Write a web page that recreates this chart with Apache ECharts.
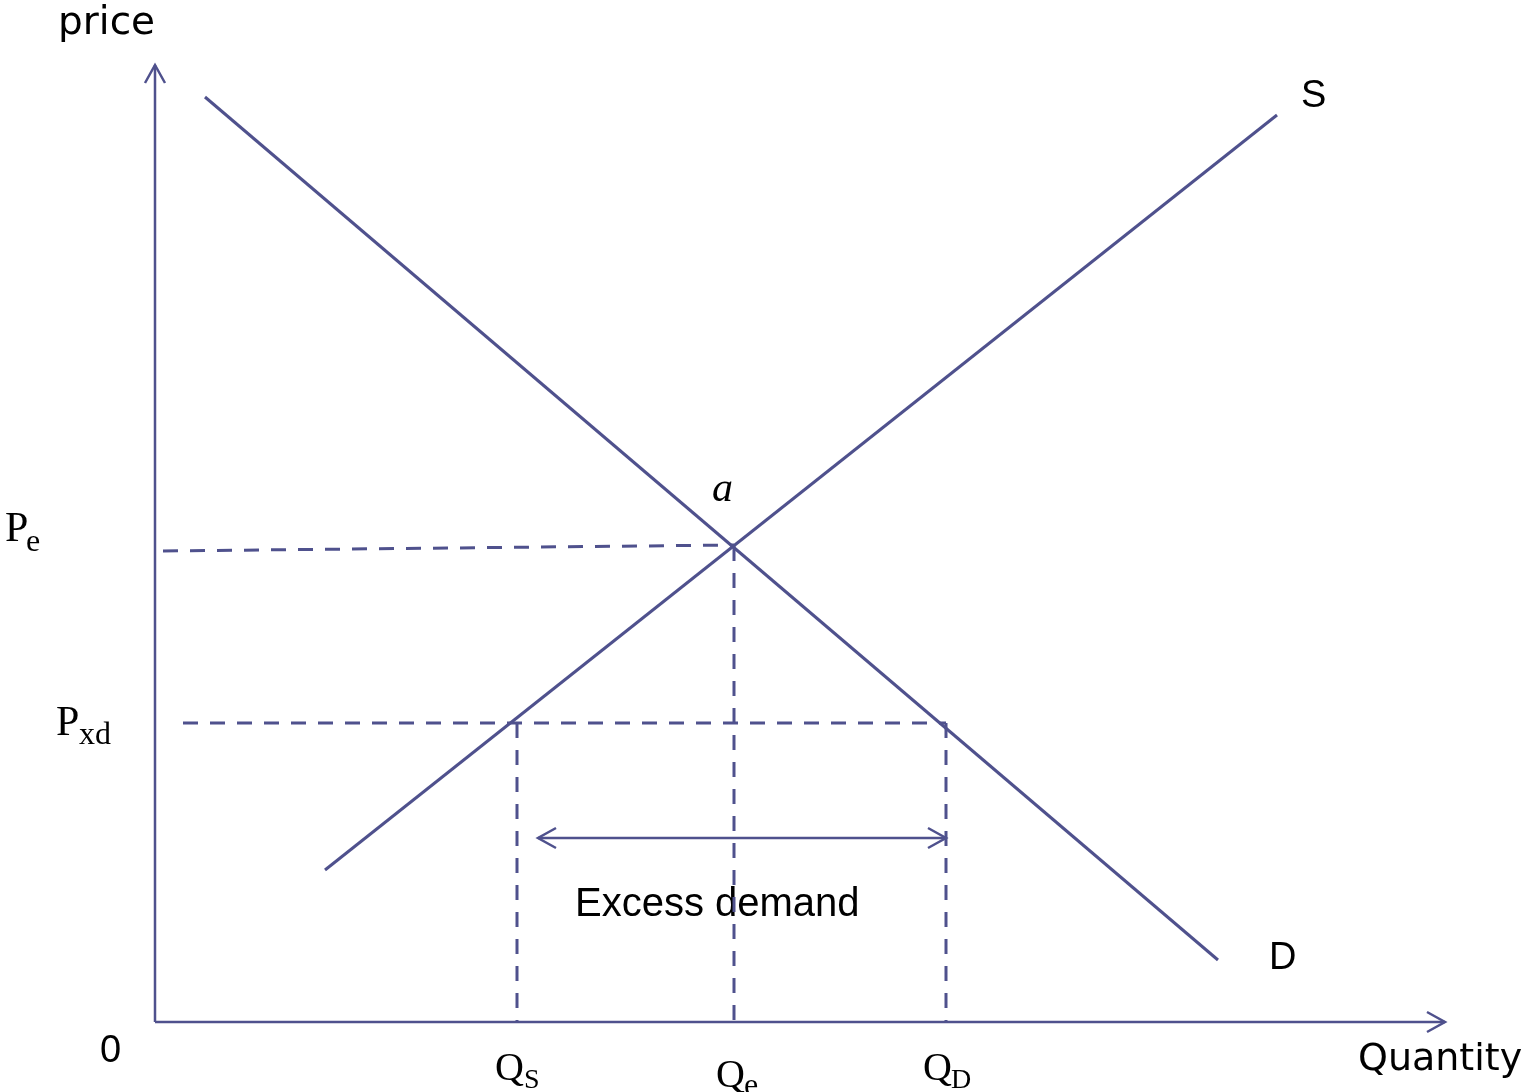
<!DOCTYPE html>
<html>
<head>
    <meta charset="utf-8">
    <title>Excess demand</title>
    <script src="https://cdn.jsdelivr.net/npm/echarts@6/dist/echarts.min.js"></script>
</head>
<body style="margin:0;">
    <div id="main" style="width: 1528px;height:1092px;"></div>
    <script type="text/javascript">
        // quantity / price points, one unit = one pixel
        var demand = [[50, 925], [1063, 62]];
        var supply = [[170, 152], [1122, 907]];
        var peGuide = [[8, 471], [579, 477]];
        var pxdGuide = [[28, 299], [791, 299]];
        var qsGuide = [[362, 299], [362, 0]];
        var qeGuide = [[579, 476], [579, -8]];
        var qdGuide = [[791, 299], [791, 0]];
        var excessArrow = [383, 184, 791, 184];
        var quantityAxis = [0, 0, 1290, 0];
        var priceAxis = [0, 0, 0, 957];

        var ink = '#4f518d';
        var sans = 'Liberation Sans, Arial, sans-serif';
        var humanist = 'DejaVu Sans, sans-serif';
        var serif = 'Liberation Serif, DejaVu Serif, serif';

        var myChart = echarts.init(document.getElementById('main'));

        function head(tip, from) {
            var dx = tip[0] - from[0], dy = tip[1] - from[1];
            var len = Math.sqrt(dx * dx + dy * dy);
            var ux = dx / len, uy = dy / len;
            var back = 18, side = 10;
            return {
                type: 'polyline',
                shape: { points: [
                    [tip[0] - back * ux - side * uy, tip[1] - back * uy + side * ux],
                    tip,
                    [tip[0] - back * ux + side * uy, tip[1] - back * uy - side * ux]
                ] },
                style: { stroke: ink, lineWidth: 2.5, fill: null }
            };
        }

        function arrow(seg, both, width) {
            return {
                type: 'custom',
                coordinateSystem: 'cartesian2d',
                clip: false,
                silent: true,
                data: [seg],
                renderItem: function (params, api) {
                    var a = api.coord([api.value(0), api.value(1)]);
                    var b = api.coord([api.value(2), api.value(3)]);
                    var kids = [{
                        type: 'line',
                        shape: { x1: a[0], y1: a[1], x2: b[0], y2: b[1] },
                        style: { stroke: ink, lineWidth: width }
                    }, head(b, a)];
                    if (both) kids.push(head(a, b));
                    return { type: 'group', children: kids };
                }
            };
        }

        function solid(data) {
            return { type: 'line', data: data, symbol: 'none', silent: true,
                lineStyle: { color: ink, width: 3 } };
        }
        function dashed(data) {
            return { type: 'line', data: data, symbol: 'none', silent: true,
                lineStyle: { color: ink, width: 3, type: [15, 12] } };
        }

        // x = left edge, base = baseline in pixels
        function txt(x, base, s, font, size, extra) {
            var k = font === serif ? 0.8 : 0.83;
            var o = { type: 'text', x: x, y: base - k * size, style: {
                text: s, fontFamily: font, fontSize: size, fill: '#000',
                align: 'left', verticalAlign: 'top' } };
            if (extra) for (var key in extra) o.style[key] = extra[key];
            return o;
        }

        var option = {
            animation: false,
            grid: { left: 155, right: 83, top: 65, bottom: 50 },
            xAxis: { type: 'value', min: 0, max: 1290, show: false },
            yAxis: { type: 'value', min: -20, max: 957, show: false },
            series: [
                solid(demand),
                solid(supply),
                dashed(peGuide),
                dashed(pxdGuide),
                dashed(qsGuide),
                dashed(qeGuide),
                dashed(qdGuide),
                arrow(quantityAxis, false, 2.5),
                arrow(priceAxis, false, 2.5),
                arrow(excessArrow, true, 2.5)
            ],
            graphic: [
                txt(58, 37, 'price', humanist, 39),
                txt(1358, 1073, 'Quantity', humanist, 38),
                txt(100, 1064, '0', sans, 38),
                txt(1301, 109, 'S', sans, 38),
                txt(1269, 971, 'D', sans, 38),
                txt(575, 918, 'Excess demand', sans, 40),
                txt(712, 503, 'a', serif, 42, { fontStyle: 'italic' }),
                txt(5, 543, 'P', serif, 42),
                txt(26, 552, 'e', serif, 32),
                txt(56, 737, 'P', serif, 42),
                txt(79, 745, 'xd', serif, 32),
                txt(495, 1081, 'Q', serif, 40),
                txt(524, 1089, 'S', serif, 28),
                txt(716, 1088, 'Q', serif, 40),
                txt(744, 1096, 'e', serif, 32),
                txt(923, 1081, 'Q', serif, 40),
                txt(951, 1089, 'D', serif, 28)
            ]
        };
        myChart.setOption(option);
    </script>
</body>
</html>
